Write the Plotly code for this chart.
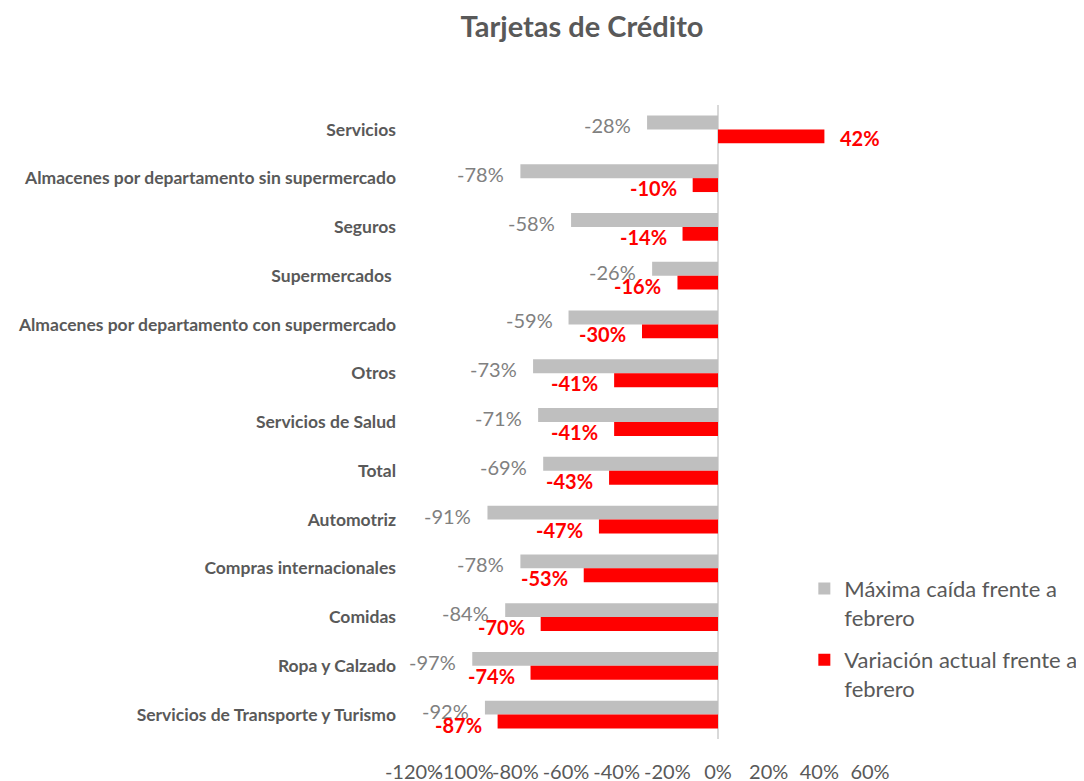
import plotly.graph_objects as go

categories = [
    "Servicios",
    "Almacenes por departamento sin supermercado",
    "Seguros",
    "Supermercados ",
    "Almacenes por departamento con supermercado",
    "Otros",
    "Servicios de Salud",
    "Total",
    "Automotriz",
    "Compras internacionales",
    "Comidas",
    "Ropa y Calzado",
    "Servicios de Transporte y Turismo",
]
max_caida = [-28, -78, -58, -26, -59, -73, -71, -69, -91, -78, -84, -97, -92]
variacion_actual = [42, -10, -14, -16, -30, -41, -41, -43, -47, -53, -70, -74, -87]
tick_vals = [-120, -100, -80, -60, -40, -20, 0, 20, 40, 60]
tick_text = ["-120%", "-100%", "-80%", "-60%", "-40%", "-20%", "0%", "20%", "40%", "60%"]

FONT = "Lato"
GRAY_TXT = "#595959"

fig = go.Figure()
fig.add_trace(go.Bar(
    y=categories, x=max_caida, orientation="h",
    name="Máxima caída frente a<br>febrero", legend="legend",
    marker=dict(color="#BFBFBF", line=dict(width=0)),
))
fig.add_trace(go.Bar(
    y=categories, x=variacion_actual, orientation="h",
    name="Variación actual frente a<br>febrero", legend="legend2",
    marker=dict(color="#FF0000", line=dict(width=0)),
))

annotations = []
for c, v in zip(categories, max_caida):
    annotations.append(dict(
        x=v, y=c, xref="x", yref="y", text=f"{v}%", showarrow=False,
        xanchor="right", yanchor="middle", xshift=-14, yshift=4,
        font=dict(family=FONT, size=20, color="#808080"),
    ))
for c, v in zip(categories, variacion_actual):
    if v >= 0:
        annotations.append(dict(
            x=v, y=c, xref="x", yref="y", text=f"<b>{v}%</b>", showarrow=False,
            xanchor="left", yanchor="middle", xshift=14, yshift=-9,
            font=dict(family=FONT, size=20, color="#FF0000"),
        ))
    else:
        annotations.append(dict(
            x=v, y=c, xref="x", yref="y", text=f"<b>{v}%</b>", showarrow=False,
            xanchor="right", yanchor="middle", xshift=-14, yshift=-10,
            font=dict(family=FONT, size=20, color="#FF0000"),
        ))

legend_style = dict(
    xanchor="left", yanchor="top", valign="top",
    font=dict(family=FONT, size=22, color=GRAY_TXT),
    bgcolor="rgba(0,0,0,0)",
)

# page body has an 8px default margin, so the figure is sized/placed to compensate
fig.update_layout(
    width=1076, height=773,
    margin=dict(l=406, r=214, t=97, b=42, autoexpand=False),
    paper_bgcolor="white", plot_bgcolor="white",
    barmode="group", bargap=0.43, bargroupgap=0,
    title=dict(text="<b>Tarjetas de Crédito</b>", x=0.5335, xref="container",
               xanchor="center", y=0.975, yanchor="middle",
               font=dict(family=FONT, size=29, color=GRAY_TXT)),
    font=dict(family=FONT, color=GRAY_TXT),
    annotations=annotations,
    legend=dict(x=0.856, y=0.27, **legend_style),
    legend2=dict(x=0.856, y=0.158, **legend_style),
    showlegend=True,
)
fig.update_xaxes(
    range=[-120, 60], tickvals=tick_vals, ticktext=tick_text, tickangle=0,
    showgrid=False, zeroline=True, zerolinecolor="#D9D9D9", zerolinewidth=2,
    showline=False, ticks="", ticklabelstandoff=19, automargin=False,
    tickfont=dict(family=FONT, size=20, color=GRAY_TXT),
)
fig.update_yaxes(
    autorange="reversed", showgrid=False, showline=False, ticks="",
    ticklabelstandoff=17, automargin=False,
    tickfont=dict(family=FONT, size=17.5, color=GRAY_TXT, weight="bold"),
)

fig.write_html("out.html")
